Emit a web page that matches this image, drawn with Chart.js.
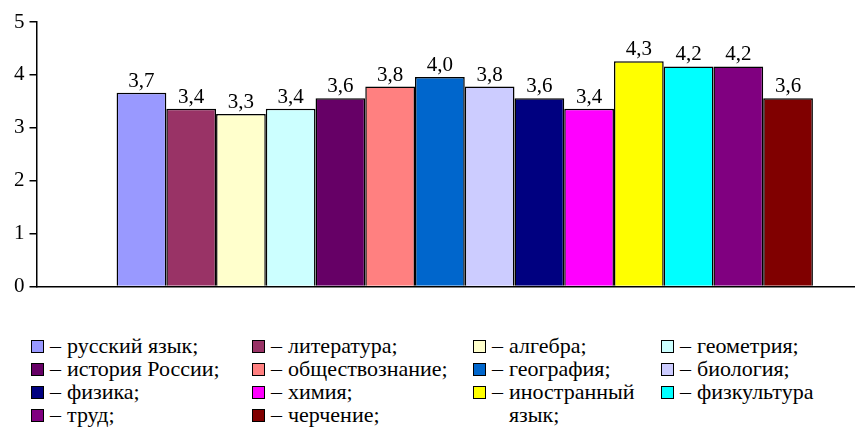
<!DOCTYPE html>
<html>
<head>
<meta charset="utf-8">
<script src="https://cdn.jsdelivr.net/npm/chart.js@4"></script>
<style>
  html, body { margin: 0; padding: 0; background: #fff; overflow: hidden; }
  body { width: 855px; height: 428px; position: relative; font-family: "Liberation Serif", "Times New Roman", "DejaVu Serif", serif; }
  #wrap { position: absolute; left: 0; top: 0; width: 900px; height: 304px; }
  #legend {
    position: absolute; left: 31px; top: 334px;
    display: grid; grid-template-columns: 221px 221px 188px 190px;
    grid-auto-rows: 23px; font-size: 22px; line-height: 23px; color: #000;
  }
  .item { display: flex; align-items: flex-start; white-space: nowrap; }
  .box { width: 11px; height: 11px; border: 1.5px solid #000; margin-top: 6px; margin-right: 6px; flex: none; }
  .dash { margin-right: 6px; }
  .txt { white-space: normal; width: 130px; }
  .item .txt.nw { white-space: nowrap; width: auto; }
</style>
</head>
<body>
<div id="wrap"><canvas id="grafico"></canvas></div>
<div id="legend"></div>
<script>
const predmety = ['русский язык;', 'литература;', 'алгебра;', 'геометрия;',
  'история России;', 'обществознание;', 'география;', 'биология;',
  'физика;', 'химия;', 'иностранный язык;', 'физкультура',
  'труд;', 'черчение;'];
const ocenki = [3.66, 3.36, 3.26, 3.36, 3.56, 3.78, 3.96, 3.78, 3.56, 3.36, 4.26, 4.16, 4.16, 3.56];
const cveta = ['#9999FF', '#993366', '#FFFFCC', '#CCFFFF', '#660066', '#FF8080', '#0066CC',
  '#CCCCFF', '#000080', '#FF00FF', '#FFFF00', '#00FFFF', '#800080', '#800000'];
const yTicks = [0, 1, 2, 3, 4, 5];
const shrift = '"Liberation Serif", "Times New Roman", "DejaVu Serif", serif';

// подписи значений над столбцами
const podpisi = {
  id: 'podpisi',
  afterDatasetsDraw(chart) {
    const ctx = chart.ctx;
    ctx.save();
    ctx.font = '21px ' + shrift;
    ctx.fillStyle = '#000';
    ctx.textAlign = 'center';
    ctx.textBaseline = 'bottom';
    chart.data.datasets.forEach((ds, i) => {
      chart.getDatasetMeta(i).data.forEach(bar => {
        ctx.fillText(ds.data[0].toFixed(1).replace('.', ','), bar.x, bar.y - 1);
      });
    });
    ctx.restore();
  }
};

new Chart(document.getElementById('grafico'), {
  type: 'bar',
  data: {
    labels: [''],
    datasets: predmety.map((p, i) => ({
      label: p,
      data: [ocenki[i]],
      backgroundColor: cveta[i],
      borderColor: '#000',
      borderWidth: 1.5
    }))
  },
  options: {
    responsive: true,
    maintainAspectRatio: false,
    animation: false,
    layout: { padding: { left: 9, right: 7, top: 22, bottom: 0 } },
    datasets: { bar: { categoryPercentage: 0.813, barPercentage: 1 } },
    plugins: { legend: { display: false }, tooltip: { enabled: false } },
    scales: {
      x: {
        grid: { display: false },
        border: { display: true, color: '#000', width: 1.5 },
        ticks: { display: false }
      },
      y: {
        min: 0, max: 5,
        afterBuildTicks: s => { s.ticks = yTicks.map(v => ({ value: v })); },
        grid: { drawOnChartArea: false, drawTicks: true, tickLength: 7, color: '#000', lineWidth: 1.5 },
        border: { display: true, color: '#000', width: 1.5 },
        ticks: { padding: 5, color: '#000', font: { family: shrift, size: 21 } }
      }
    }
  },
  plugins: [podpisi]
});

const leg = document.getElementById('legend');
predmety.forEach((p, i) => {
  const d = document.createElement('div');
  d.className = 'item';
  d.innerHTML = '<span class="box" style="background:' + cveta[i] + '"></span><span class="dash">–</span>' +
    '<span class="txt' + (i === 10 ? '' : ' nw') + '">' + p + '</span>';
  leg.appendChild(d);
});
</script>
</body>
</html>
